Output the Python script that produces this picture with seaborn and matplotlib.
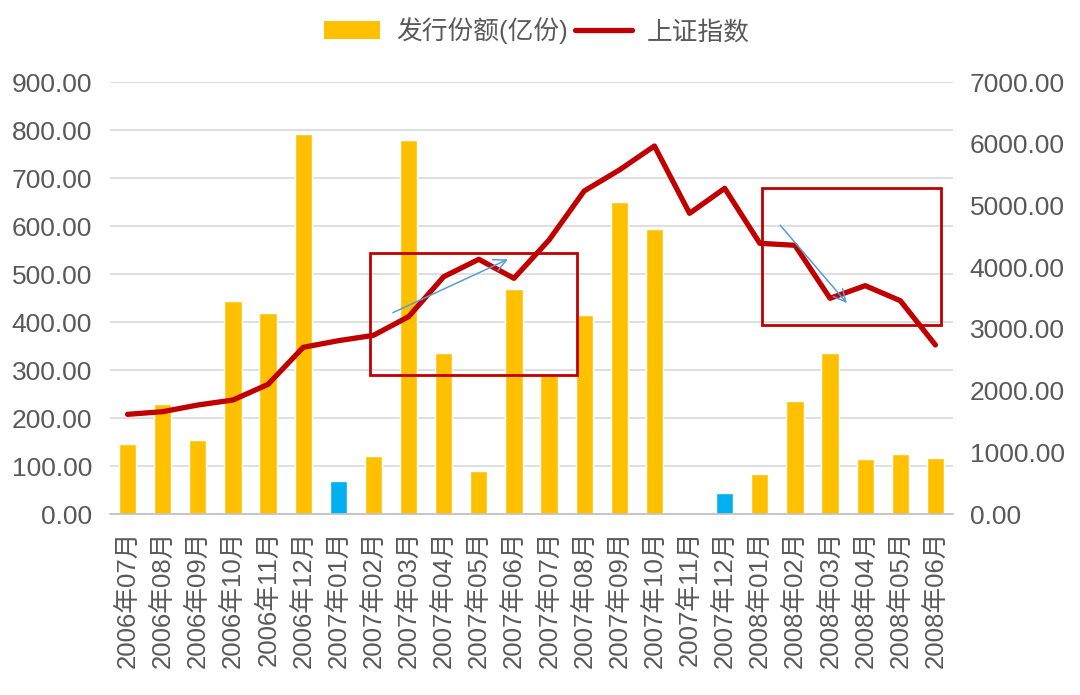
import numpy as np
import pandas as pd
import matplotlib
matplotlib.use("Agg")
import matplotlib.pyplot as plt
import seaborn as sns
from matplotlib.patches import Rectangle, Patch
from matplotlib.lines import Line2D
from matplotlib.ticker import FixedLocator, FuncFormatter

# ---------------- data ----------------
months = ["2006年07月", "2006年08月", "2006年09月", "2006年10月", "2006年11月", "2006年12月",
          "2007年01月", "2007年02月", "2007年03月", "2007年04月", "2007年05月", "2007年06月",
          "2007年07月", "2007年08月", "2007年09月", "2007年10月", "2007年11月", "2007年12月",
          "2008年01月", "2008年02月", "2008年03月", "2008年04月", "2008年05月", "2008年06月"]
issue_amount = [146, 229, 155, 443, 419, 792,
                69, 121, 779, 335, 90, 468,
                290, 415, 651, 593, 0, 43,
                83, 235, 336, 115, 126, 117]
sh_index = [1615, 1658, 1766, 1847, 2101, 2701,
            2808, 2895, 3197, 3845, 4127, 3819,
            4440, 5234, 5574, 5963, 4872, 5277,
            4386, 4354, 3495, 3700, 3456, 2738]
highlight_months = ["2007年01月", "2007年12月"]

bar_label = "发行份额(亿份)"
line_label = "上证指数"

YELLOW = "#FFC000"
BLUE = "#00B0F0"
RED = "#C00000"
ARROW = "#5B9BD5"
GRID = "#D9D9D9"
TXT = "#595959"
FS = 19

sns.set_theme(style="white")
plt.rcParams['font.family'] = ['Liberation Sans', 'Noto Sans CJK SC', 'DejaVu Sans']

df = pd.DataFrame({"month": months, "amount": issue_amount, "index": sh_index})
df["pos"] = np.arange(len(months))
palette = {m: (BLUE if m in highlight_months else YELLOW) for m in months}

fig = plt.figure(figsize=(10.8, 6.95), dpi=100)
ax = fig.add_axes([110/1080, 1-514/695, (953-110)/1080, (514-82)/695])

sns.barplot(data=df, x="month", y="amount", hue="month", palette=palette,
            width=0.49, legend=False, ax=ax, saturation=1, dodge=False)

ax.set_xlim(-0.5, len(months)-0.5)
ax.set_ylim(0, 900)
ax.set_yticks(np.arange(0, 901, 100))
ax.yaxis.set_major_formatter(FuncFormatter(lambda v, p: f"{v:.2f}"))
ax.grid(axis="y", color=GRID, lw=1.2)
ax.set_axisbelow(True)
ax.set_xlabel("")
ax.set_ylabel("")
for s in ["top", "right", "left"]:
    ax.spines[s].set_visible(False)
ax.spines["bottom"].set_color("#BFBFBF")
ax.spines["bottom"].set_linewidth(1.2)
ax.tick_params(axis="y", length=0, pad=13, labelsize=FS, labelcolor=TXT)
ax.set_xticks(np.arange(len(months)))
ax.set_xticklabels(months, rotation=90)
ax.tick_params(axis="x", which="major", length=0, pad=12, labelsize=18.5, labelcolor=TXT)
ax.xaxis.set_minor_locator(FixedLocator(np.arange(-0.5, len(months), 1.0)))
ax.tick_params(axis="x", which="minor", length=7, width=1.2, color="#BFBFBF", direction="out")

ax2 = ax.twinx()
sns.lineplot(data=df, x="pos", y="index", color=RED, lw=3.8, ax=ax2,
             sort=False, solid_capstyle="round", solid_joinstyle="round")
ax2.set_ylim(0, 7000)
ax2.set_yticks(np.arange(0, 7001, 1000))
ax2.yaxis.set_major_formatter(FuncFormatter(lambda v, p: f"{v:.2f}"))
ax2.set_ylabel("")
ax2.set_xlabel("")
for s in ["top", "right", "left", "bottom"]:
    ax2.spines[s].set_visible(False)
ax2.tick_params(axis="y", length=0, pad=12, labelsize=FS, labelcolor=TXT)
ax2.set_xlim(-0.5, len(months)-0.5)

# highlight boxes (in left-axis data coordinates)
for (x0, x1, y0, y1) in [(6.9, 12.8, 290, 544), (18.07, 23.15, 394, 679)]:
    ax2.add_patch(Rectangle((x0, y0), x1-x0, y1-y0, transform=ax.transData,
                            fill=False, ec=RED, lw=2.0, zorder=5))

# trend arrows
for (xs, ys, xe, ye) in [(7.48, 417, 10.9, 533), (18.53, 606, 20.53, 435)]:
    ax2.annotate("", xy=(xe, ye), xytext=(xs, ys), xycoords=ax.transData,
                 textcoords=ax.transData,
                 arrowprops=dict(arrowstyle="->", color=ARROW, lw=1.1,
                                 mutation_scale=22), zorder=6)

handles = [Patch(facecolor=YELLOW, edgecolor="none"),
           Line2D([0], [0], color=RED, lw=3.8, solid_capstyle="round")]
fig.legend(handles, [bar_label, line_label], loc="center", ncol=2,
           bbox_to_anchor=(537/1080, 1-31/695), frameon=False, fontsize=18.5,
           handlelength=2.2, handleheight=0.7, handletextpad=0.6,
           columnspacing=0.3, labelcolor=TXT)

fig.savefig("out.png", dpi=100)
